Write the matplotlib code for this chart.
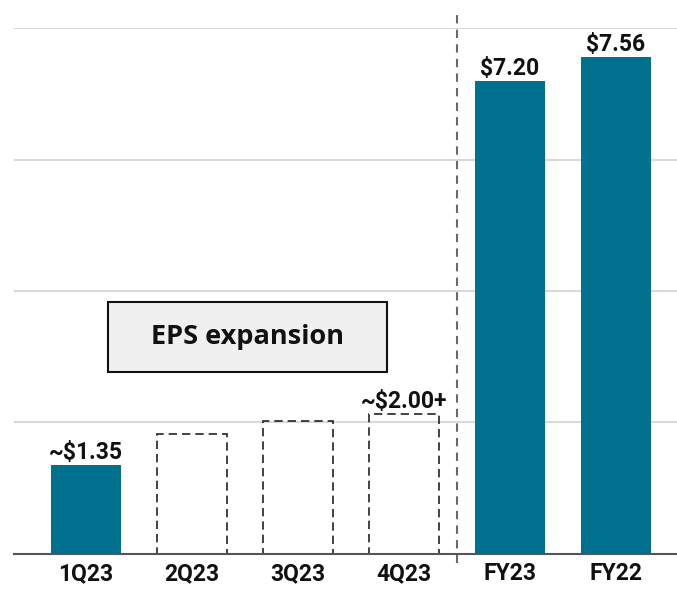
import matplotlib
matplotlib.use("Agg")
import matplotlib.pyplot as plt
from matplotlib.patches import Rectangle

categories = ["1Q23", "2Q23", "3Q23", "4Q23", "FY23", "FY22"]
values = [1.35, 1.82, 2.02, 2.13, 7.20, 7.56]
filled = [True, False, False, False, True, True]
labels = ["~$1.35", "", "", "~$2.00+", "$7.20", "$7.56"]
gridlines = [2, 4, 6, 8]

W, H = 677, 589
fig = plt.figure(figsize=(W / 100, H / 100), dpi=100)
ax = fig.add_axes([14 / W, 35.3 / H, 1 - 14 / W, (553.7 - 28.5) / H])

x = list(range(len(categories)))
bar_color = "#00708f"
for xi, v, f in zip(x, values, filled):
    if f:
        ax.bar(xi, v, width=0.66, color=bar_color, zorder=3)
    else:
        ax.bar(xi, v, width=0.66, fill=False, edgecolor="#222222",
               linewidth=1.2, linestyle=(0, (5, 3)), zorder=3)

for xi, v, lab in zip(x, values, labels):
    if lab:
        ax.text(xi, v + 0.02, lab, ha="center", va="bottom",
                fontsize=16.5, fontweight="bold", family="Roboto", color="#111111", zorder=4)

for g in gridlines:
    ax.axhline(g, color="#d9d9d9", linewidth=1.5, zorder=1)

ax.set_ylim(0, 8)
ax.set_xlim(-0.68, 5.58)
ax.set_xticks(x)
ax.set_xticklabels(categories, fontsize=16.5, fontweight="bold", family="Roboto", color="#111111")
ax.tick_params(axis="x", length=0, pad=6)
ax.set_yticks([])
for s in ["top", "right", "left"]:
    ax.spines[s].set_visible(False)
ax.spines["bottom"].set_color("#555555")
ax.spines["bottom"].set_linewidth(1.5)
ax.spines["bottom"].set_zorder(5)

# divider between quarters and full-year
ax.plot([3.5, 3.5], [-0.14, 8.29], color="#5f6b75", linewidth=1.5,
        linestyle=(0, (4, 3)), clip_on=False, zorder=2)

# annotation box
bx0, bx1 = 108, 387
by0, by1 = 302, 372
fig.patches.append(Rectangle((bx0 / W, 1 - by1 / H), (bx1 - bx0) / W, (by1 - by0) / H,
                             transform=fig.transFigure, facecolor="#f0f0f0",
                             edgecolor="#111111", linewidth=1.5, zorder=6))
fig.text((bx0 + bx1) / 2 / W, 1 - (by0 + by1) / 2 / H, "EPS expansion",
         ha="center", va="center", fontsize=19.5, fontweight="bold",
         family="Open Sans", color="#111111", zorder=7)

fig.savefig("out.png", dpi=100)
